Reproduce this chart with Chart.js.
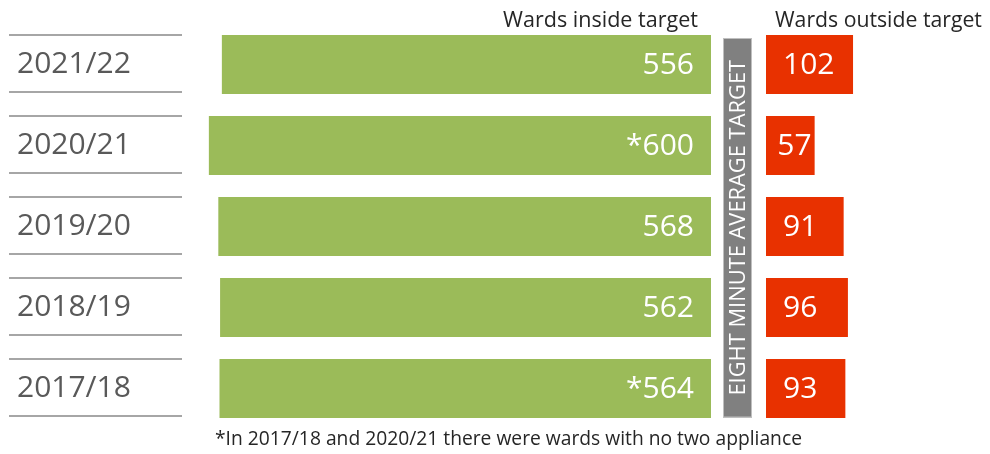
<!DOCTYPE html>
<html><head><meta charset="utf-8">
<script src="https://cdn.jsdelivr.net/npm/chart.js@4/dist/chart.umd.min.js"></script>
<style>
html,body{margin:0;padding:0;background:#fff;}
#wrap{position:relative;width:990px;height:454px;overflow:hidden;}
#g{position:absolute;left:0;top:0;}
#r{position:absolute;left:760px;top:0;}
</style></head><body>
<div id="wrap"><canvas id="g" width="990" height="454"></canvas><canvas id="r" width="230" height="454"></canvas></div>
<script>
const years = ['2021/22', '2020/21', '2019/20', '2018/19', '2017/18'];
const insideTarget = [556, 600, 568, 562, 564];
const insideMark = ['', '*', '', '', '*'];
const outsideTarget = [102, 57, 91, 96, 93];
const headerInside = 'Wards inside target';
const headerOutside = 'Wards outside target';
const targetLabel = 'EIGHT MINUTE AVERAGE TARGET';
const footnote = '*In 2017/18 and 2020/21 there were wards with no two appliance';

const FONT = "'Open Sans', 'Liberation Sans', sans-serif";
const GREEN = '#9BBB59';
const RED = '#E83100';

function fitSize(ctx, text, width, weight) {
  ctx.font = (weight || '') + ' 100px ' + FONT;
  return 100 * width / ctx.measureText(text).width;
}

const decor = {
  id: 'decor',
  afterDatasetsDraw(chart) {
    const ctx = chart.ctx;
    const yS = chart.scales.y;
    const ca = chart.chartArea;
    ctx.save();
    // separator lines around year labels
    ctx.strokeStyle = '#a6a6a6';
    ctx.lineWidth = 2;
    years.forEach((_, i) => {
      const y = yS.getPixelForTick(i);
      [y - 30, y + 27.5].forEach(yy => {
        ctx.beginPath();
        ctx.moveTo(9, Math.round(yy));
        ctx.lineTo(182, Math.round(yy));
        ctx.stroke();
      });
    });
    // values inside green bars
    const meta = chart.getDatasetMeta(0);
    ctx.fillStyle = '#ffffff';
    ctx.font = '30px ' + FONT;
    ctx.textAlign = 'right';
    ctx.textBaseline = 'middle';
    meta.data.forEach((el, i) => {
      const right = Math.max(el.x, el.base);
      ctx.fillText(insideMark[i] + insideTarget[i], right - 17, el.y + 1);
    });
    // target bar
    const gx = ca.right + 12, gw = 29;
    const gTop = yS.getPixelForTick(0) - 26.5;
    const gBot = yS.getPixelForTick(years.length - 1) + 29;
    ctx.fillStyle = '#808080';
    ctx.fillRect(gx, gTop, gw, gBot - gTop);
    ctx.strokeStyle = '#bfbfbf';
    ctx.lineWidth = 1;
    ctx.strokeRect(gx + 0.5, gTop + 0.5, gw - 1, gBot - gTop - 1);
    const ts = fitSize(ctx, targetLabel, 336);
    ctx.save();
    ctx.translate(gx + gw / 2 + 1, (gTop + gBot) / 2);
    ctx.rotate(-Math.PI / 2);
    ctx.fillStyle = '#ffffff';
    ctx.font = ts + 'px ' + FONT;
    ctx.textAlign = 'center';
    ctx.textBaseline = 'middle';
    ctx.fillText(targetLabel, 0, 0);
    ctx.restore();
    // headers
    ctx.fillStyle = '#262626';
    ctx.textBaseline = 'alphabetic';
    ctx.font = fitSize(ctx, headerInside, 195) + 'px ' + FONT;
    ctx.textAlign = 'right';
    ctx.fillText(headerInside, 698, 27);
    ctx.font = fitSize(ctx, headerOutside, 207) + 'px ' + FONT;
    ctx.textAlign = 'left';
    ctx.fillText(headerOutside, 775, 27);
    // footnote
    ctx.font = fitSize(ctx, footnote, 587) + 'px ' + FONT;
    ctx.fillText(footnote, 215, 445);
    ctx.restore();
  }
};

new Chart(document.getElementById('g'), {
  type: 'bar',
  data: {
    labels: years,
    datasets: [{
      data: insideTarget,
      backgroundColor: GREEN,
      borderWidth: 0,
      base: -1100,
      barPercentage: 0.73,
      categoryPercentage: 1
    }]
  },
  options: {
    indexAxis: 'y',
    responsive: false,
    animation: false,
    layout: { padding: { left: 17, right: 279, top: 24, bottom: 25 } },
    plugins: { legend: { display: false }, tooltip: { enabled: false } },
    scales: {
      x: { display: false, reverse: true, min: -1100, max: 630 },
      y: {
        grid: { display: false, drawTicks: false },
        border: { display: false },
        ticks: { crossAlign: 'far', padding: 0, color: '#595959', font: { family: FONT, size: 30 } },
        afterFit(s) { s.width = 183; }
      }
    }
  },
  plugins: [decor]
});

const redLabels = {
  id: 'redLabels',
  afterDatasetsDraw(chart) {
    const ctx = chart.ctx;
    const meta = chart.getDatasetMeta(0);
    ctx.save();
    ctx.fillStyle = '#ffffff';
    ctx.font = '30px ' + FONT;
    ctx.textAlign = 'left';
    ctx.textBaseline = 'middle';
    meta.data.forEach((el, i) => {
      const txt = String(outsideTarget[i]);
      const left = Math.min(el.x, el.base);
      const w = Math.abs(el.x - el.base);
      const tw = ctx.measureText(txt).width;
      const pad = Math.min(17, w - tw - 3);
      ctx.fillText(txt, left + pad, el.y + 1);
    });
    ctx.restore();
  }
};

new Chart(document.getElementById('r'), {
  type: 'bar',
  data: {
    labels: years,
    datasets: [{
      data: outsideTarget,
      backgroundColor: RED,
      borderWidth: 0,
      barPercentage: 0.73,
      categoryPercentage: 1
    }]
  },
  options: {
    indexAxis: 'y',
    responsive: false,
    animation: false,
    layout: { padding: { left: 6, right: 96, top: 24, bottom: 25 } },
    plugins: { legend: { display: false }, tooltip: { enabled: false } },
    scales: {
      x: { display: false, min: 0, max: 150 },
      y: { display: false }
    }
  },
  plugins: [redLabels]
});
</script>
</body></html>
